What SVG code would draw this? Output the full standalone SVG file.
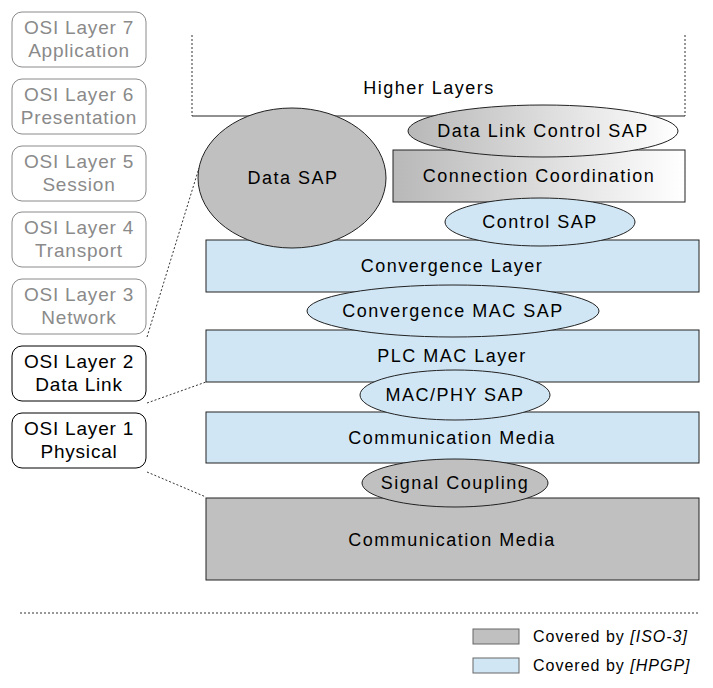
<svg xmlns="http://www.w3.org/2000/svg" width="713" height="688" viewBox="0 0 713 688">
<style>
text{font-family:"Liberation Sans",Arial,sans-serif;text-anchor:middle}
.osi{font-size:19px;letter-spacing:0.8px}
.g rect{fill:#fff;stroke:#8a8a8a;stroke-width:1}
.g text{fill:#8a8a8a}
.b rect{fill:#fff;stroke:#000;stroke-width:1}
.b text{fill:#000}
.lbl{font-size:18px;letter-spacing:1.5px;fill:#000}
.blue{fill:#d0e6f4;stroke:#222;stroke-width:1}
.gray{fill:#c0c0c0;stroke:#222;stroke-width:1}
.dot{stroke:#333;stroke-width:1;stroke-dasharray:2,2;fill:none}
.leg{font-size:16px;letter-spacing:1px;text-anchor:start;fill:#000}
</style>
<defs>
<linearGradient id="gw" x1="0" y1="0" x2="1" y2="0">
<stop offset="0" stop-color="#b8b8b8"/>
<stop offset="1" stop-color="#ffffff"/>
</linearGradient>
</defs>
<rect width="713" height="688" fill="#fff"/>

<g id="osi7" class="g"><rect x="12" y="12" width="134" height="55" rx="10"/><text class="osi" x="79" y="34">OSI Layer 7</text><text class="osi" x="79" y="57">Application</text></g>
<g id="osi6" class="g"><rect x="12" y="79" width="134" height="55" rx="10"/><text class="osi" x="79" y="101">OSI Layer 6</text><text class="osi" x="79" y="124">Presentation</text></g>
<g id="osi5" class="g"><rect x="12" y="146" width="134" height="55" rx="10"/><text class="osi" x="79" y="168">OSI Layer 5</text><text class="osi" x="79" y="191">Session</text></g>
<g id="osi4" class="g"><rect x="12" y="212" width="134" height="55" rx="10"/><text class="osi" x="79" y="234">OSI Layer 4</text><text class="osi" x="79" y="257">Transport</text></g>
<g id="osi3" class="g"><rect x="12" y="279" width="134" height="55" rx="10"/><text class="osi" x="79" y="301">OSI Layer 3</text><text class="osi" x="79" y="324">Network</text></g>
<g id="osi2" class="b"><rect x="12" y="346" width="134" height="55" rx="10"/><text class="osi" x="79" y="368">OSI Layer 2</text><text class="osi" x="79" y="391">Data Link</text></g>
<g id="osi1" class="b"><rect x="12" y="413" width="134" height="55" rx="10"/><text class="osi" x="79" y="435">OSI Layer 1</text><text class="osi" x="79" y="458">Physical</text></g>

<g id="higher">
<path d="M192 35 V116" class="dot"/>
<path d="M685 35 V116" class="dot"/>
<path d="M192 116 H685" stroke="#222" stroke-width="1" fill="none"/>
<text class="lbl" x="429" y="94">Higher Layers</text>
</g>

<g id="connectors">
<path d="M147 337 L199 168" class="dot"/>
<path d="M147 403 L206 382" class="dot"/>
<path d="M147 472 L206 497" class="dot"/>
<path d="M20 613 H698" class="dot" stroke="#666"/>
</g>

<g id="conncoord"><rect x="393" y="150" width="292" height="52" fill="url(#gw)" stroke="#222"/><text class="lbl" x="539" y="182">Connection Coordination</text></g>
<g id="convlayer"><rect x="206" y="240" width="493" height="52" class="blue"/><text class="lbl" x="452" y="272">Convergence Layer</text></g>
<g id="plcmac"><rect x="206" y="330" width="493" height="52" class="blue"/><text class="lbl" x="452" y="362">PLC MAC Layer</text></g>
<g id="commblue"><rect x="206" y="412" width="493" height="51" class="blue"/><text class="lbl" x="452" y="444">Communication Media</text></g>
<g id="commgray"><rect x="206" y="498" width="493" height="82" class="gray"/><text class="lbl" x="452" y="546">Communication Media</text></g>

<g id="datasap"><ellipse cx="292" cy="178" rx="94" ry="70" class="gray"/><text class="lbl" x="293" y="184">Data SAP</text></g>
<g id="dlcsap"><ellipse cx="543" cy="131" rx="135" ry="26" fill="url(#gw)" stroke="#222"/><text class="lbl" x="543" y="137">Data Link Control SAP</text></g>
<g id="controlsap"><ellipse cx="540" cy="222" rx="95" ry="24" class="blue"/><text class="lbl" x="540" y="228">Control SAP</text></g>
<g id="convmacsap"><ellipse cx="453" cy="311" rx="146" ry="26" class="blue"/><text class="lbl" x="453" y="317">Convergence MAC SAP</text></g>
<g id="macphysap"><ellipse cx="455" cy="395" rx="95" ry="25" class="blue"/><text class="lbl" x="455" y="401">MAC/PHY SAP</text></g>
<g id="signal"><ellipse cx="455" cy="483" rx="93" ry="24" class="gray"/><text class="lbl" x="455" y="489">Signal Coupling</text></g>

<g id="legend">
<rect x="473" y="629" width="46" height="15" fill="#c0c0c0" stroke="#666"/>
<text class="leg" x="533" y="642">Covered by <tspan font-style="italic">[ISO-3]</tspan></text>
<rect x="473" y="658" width="46" height="15" fill="#d0e6f4" stroke="#666"/>
<text class="leg" x="533" y="671">Covered by <tspan font-style="italic">[HPGP]</tspan></text>
</g>
</svg>
